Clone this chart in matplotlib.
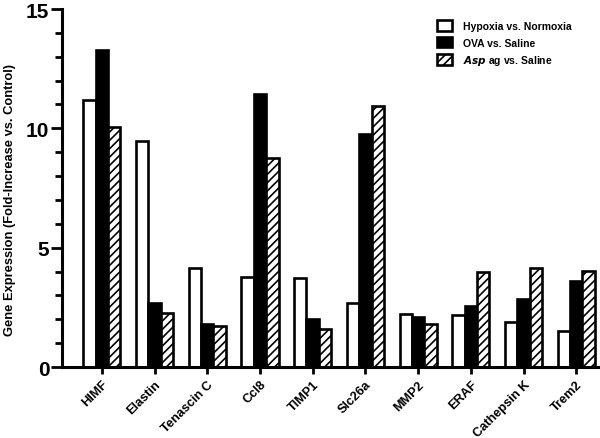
import numpy as np
import matplotlib.pyplot as plt
from matplotlib.ticker import MultipleLocator

plt.rcParams['font.family'] = ['Liberation Sans', 'DejaVu Sans']
plt.rcParams['font.weight'] = 'bold'
plt.rcParams['hatch.linewidth'] = 1.2

genes = ["HIMF", "Elastin", "Tenascin C", "Ccl8", "TIMP1", "Slc26a",
         "MMP2", "ERAF", "Cathepsin K", "Trem2"]
hypoxia = [11.2, 9.45, 4.15, 3.78, 3.73, 2.7, 2.23, 2.2, 1.9, 1.52]
ova = [13.3, 2.68, 1.82, 11.45, 2.0, 9.75, 2.1, 2.55, 2.87, 3.6]
asp = [10.05, 2.25, 1.73, 8.75, 1.6, 10.95, 1.82, 4.0, 4.15, 4.03]
series_names = ["Hypoxia vs. Normoxia", "OVA vs. Saline",
                "$\\bf{\\it{Asp}}$ ag vs. Saline"]

fig = plt.figure(figsize=(6, 4.39), dpi=100)
ax = fig.add_axes([0.1033, 0.1617, 0.8967, 0.8155])

x = np.arange(len(genes))
w = 0.235
lw = 1.9
b1 = ax.bar(x - w, hypoxia, w, color="white", edgecolor="black", linewidth=lw)
b2 = ax.bar(x, ova, w, color="black", edgecolor="black", linewidth=lw)
b3 = ax.bar(x + w, asp, w, color="white", edgecolor="black", linewidth=lw,
            hatch="////")

ax.set_xlim(-0.755, 9.45)
ax.set_ylim(0, 15)
ax.set_yticks([0, 5, 10, 15])
ax.yaxis.set_minor_locator(MultipleLocator(1))
ax.set_xticks(x)
ax.set_xticklabels(genes, rotation=45, ha="right", rotation_mode="anchor",
                   fontsize=9.2, fontweight="bold")
ax.tick_params(axis="y", which="major", labelsize=15, width=2, length=8, pad=1)
ax.tick_params(axis="y", which="minor", width=2, length=5)
ax.tick_params(axis="x", width=2, length=5, pad=3)
for lab in ax.get_yticklabels():
    lab.set_fontweight("bold")

for s in ["top", "right"]:
    ax.spines[s].set_visible(False)
for s in ["left", "bottom"]:
    ax.spines[s].set_linewidth(2.2)

ax.set_ylabel("Gene Expression (Fold-Increase vs. Control)", fontsize=9.3,
              fontweight="bold")
ax.yaxis.set_label_coords(-0.085, 0.47)

leg = ax.legend([b1, b2, b3], series_names,
                loc="upper left", bbox_to_anchor=(0.68, 0.995), frameon=False,
                prop={"size": 7.5, "weight": "bold"}, handlelength=1.4,
                handleheight=1.2, handletextpad=1.1, labelspacing=0.55)

fig.savefig("out.png", dpi=100)
